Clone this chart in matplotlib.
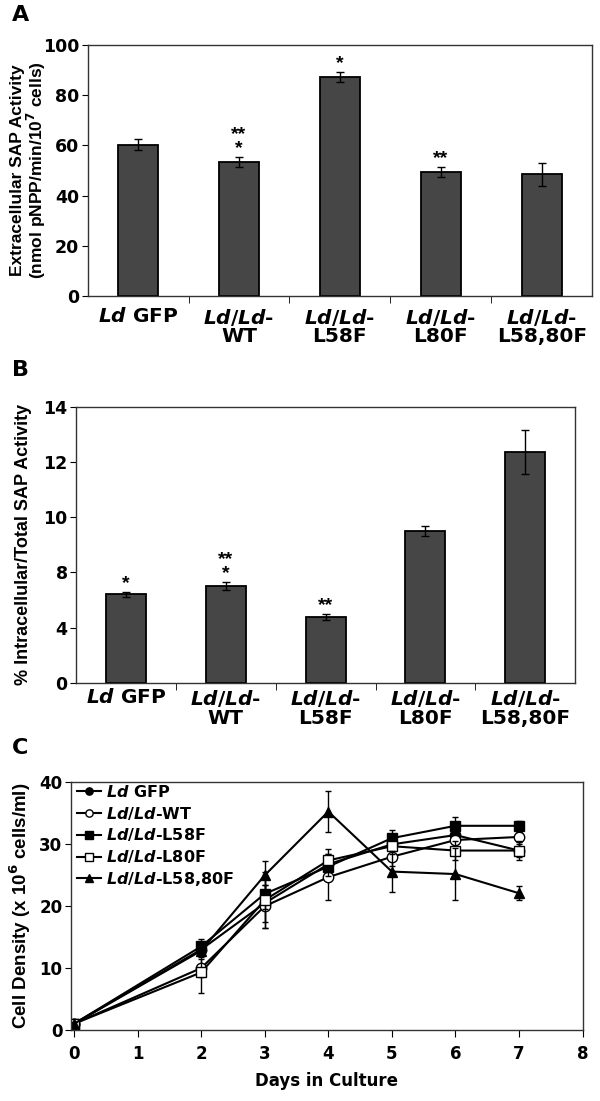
import numpy as np
import matplotlib
matplotlib.use("Agg")
import matplotlib.pyplot as plt
from matplotlib.ticker import FixedLocator

plt.rcParams['font.family'] = ['DejaVu Sans']
plt.rcParams['font.weight'] = 'bold'
plt.rcParams['axes.labelweight'] = 'bold'
plt.rcParams['mathtext.fontset'] = 'custom'
plt.rcParams['mathtext.it'] = 'DejaVu Sans:italic:bold'
plt.rcParams['mathtext.rm'] = 'DejaVu Sans:bold'
plt.rcParams['mathtext.bf'] = 'DejaVu Sans:bold'

# ---- data ----
strains = [r'$\mathit{Ld}$ GFP', r'$\mathit{Ld/Ld}$-' + '\nWT', r'$\mathit{Ld/Ld}$-' + '\nL58F',
           r'$\mathit{Ld/Ld}$-' + '\nL80F', r'$\mathit{Ld/Ld}$-' + '\nL58,80F']

extra_sap = [60.2, 53.5, 87.4, 49.3, 48.5]
extra_err = [2.2, 2.0, 2.0, 2.0, 4.6]
extra_stars = ['', '**\n*', '*', '**', '']

intra_pct = [6.4, 7.0, 4.75, 9.5, 12.35]
intra_err = [0.2, 0.28, 0.24, 0.18, 0.8]
intra_stars = ['*', '**\n*', '**', '', '']
# odd but evenly spaced tick labels on panel B
b_ticks = [0, 4, 8, 10, 12, 14]

days = [0, 2, 3, 4, 5, 6, 7]
growth_labels = [r'$\mathit{Ld}$ GFP', r'$\mathit{Ld/Ld}$-WT', r'$\mathit{Ld/Ld}$-L58F',
                 r'$\mathit{Ld/Ld}$-L80F', r'$\mathit{Ld/Ld}$-L58,80F']
gfp = [1.0, 13.0, 20.5, 26.8, 30.0, 31.5, 29.0]
gfp_err = [0.3, 1.0, 3.0, 2.5, 1.5, 1.5, 1.0]
wt = [1.0, 10.0, 20.0, 24.7, 28.0, 30.7, 31.2]
wt_err = [0.3, 1.5, 3.5, 3.7, 1.5, 1.0, 0.8]
l58 = [1.0, 13.5, 22.0, 26.4, 31.0, 33.0, 33.0]
l58_err = [0.3, 1.2, 2.5, 1.5, 1.4, 1.5, 0.8]
l80 = [1.0, 9.3, 21.0, 27.4, 29.7, 29.0, 29.0]
l80_err = [0.3, 3.4, 4.5, 1.0, 1.2, 1.6, 1.5]
l5880 = [1.0, 12.8, 25.0, 35.3, 25.6, 25.2, 22.1]
l5880_err = [0.3, 1.0, 2.3, 3.3, 3.3, 4.2, 1.1]

BAR = '#464646'
LAB_FONT = 'Liberation Sans'


def style_spines(ax):
    for s in ax.spines.values():
        s.set_linewidth(1.0)
        s.set_color('#333333')


def bar_panel(ax, vals, errs, stars, pad):
    x = np.arange(len(vals))
    ax.bar(x, vals, width=0.4, color=BAR, edgecolor='black', linewidth=1.3, zorder=2)
    ax.errorbar(x, vals, yerr=errs, fmt='none', ecolor='black', elinewidth=1.0,
                capsize=3, capthick=1.0, zorder=3)
    for i in range(len(vals)):
        if stars[i]:
            ax.text(x[i], vals[i] + errs[i], stars[i], ha='center', va='bottom',
                    fontsize=14, linespacing=0.75, family=LAB_FONT)
    ax.set_xlim(-0.5, len(vals) - 0.5)
    ax.set_xticks(x)
    ax.set_xticklabels(strains, fontsize=14.5, linespacing=0.95)
    ax.tick_params(axis='x', which='major', length=0, pad=pad)
    ax.xaxis.set_minor_locator(FixedLocator(np.arange(0.5, len(vals) - 1, 1.0)))
    ax.tick_params(axis='x', which='minor', length=5, direction='out')
    ax.tick_params(axis='y', labelsize=12.5, length=4, direction='out', pad=2)
    style_spines(ax)


fig = plt.figure(figsize=(6.0, 11.01), dpi=100)

# ---- A ----
axA = fig.add_axes([0.146, 0.7312, 0.841, 0.2279])
bar_panel(axA, extra_sap, extra_err, extra_stars, 8)
axA.set_ylim(0, 100)
axA.set_yticks([0, 20, 40, 60, 80, 100])
axA.set_ylabel('Extracellular SAP Activity\n(nmol pNPP/min/10$^7$ cells)', fontsize=12.5,
               family=LAB_FONT, linespacing=1.0)
axA.yaxis.set_label_coords(-0.079, 0.5)
fig.text(0.02, 0.9865, 'A', fontsize=16, va='center')

# ---- B ----
axB = fig.add_axes([0.1267, 0.3799, 0.832, 0.2507])


def fwd(v):
    return np.interp(v, b_ticks, np.arange(len(b_ticks)))


def inv(v):
    return np.interp(v, np.arange(len(b_ticks)), b_ticks)


axB.set_yscale('function', functions=(fwd, inv))
bar_panel(axB, intra_pct, intra_err, intra_stars, 4)
axB.set_ylim(0, 14)
axB.set_yticks(b_ticks)
axB.set_yticklabels([str(t) for t in b_ticks])
axB.yaxis.set_minor_locator(FixedLocator([]))
axB.set_ylabel('% Intracellular/Total SAP Activity', fontsize=13, family=LAB_FONT)
axB.yaxis.set_label_coords(-0.088, 0.5)
fig.text(0.02, 0.6635, 'B', fontsize=16, va='center')

# ---- C ----
axC = fig.add_axes([0.118, 0.0645, 0.853, 0.2248])
series = [(gfp, gfp_err, 'o', 'black'), (wt, wt_err, 'o', 'white'),
          (l58, l58_err, 's', 'black'), (l80, l80_err, 's', 'white'),
          (l5880, l5880_err, '^', 'black')]
for (vals, errs, mk, fc), lab in zip(series, growth_labels):
    axC.errorbar(days, vals, yerr=errs, fmt='none', ecolor='black', capsize=2.5,
                 elinewidth=1.0, capthick=1.0)
    axC.plot(days, vals, color='black', lw=1.5, marker=mk, markersize=7.5,
             markerfacecolor=fc, markeredgecolor='black', markeredgewidth=1.0,
             label=lab)
axC.set_xlim(-0.05, 8)
axC.set_ylim(0, 40)
axC.set_xticks(range(0, 9))
axC.set_yticks([0, 10, 20, 30, 40])
axC.tick_params(axis='x', labelsize=12, length=5, direction='out', pad=6)
axC.tick_params(axis='y', labelsize=12, length=4, direction='out', pad=2)
axC.set_xlabel('Days in Culture', fontsize=12, labelpad=6)
axC.set_ylabel('Cell Density (x 10$^6$ cells/ml)', fontsize=13.5, family=LAB_FONT)
axC.yaxis.set_label_coords(-0.074, 0.5)
style_spines(axC)
leg = axC.legend(loc='upper left', bbox_to_anchor=(0.012, 0.995), frameon=False,
                 fontsize=11.5, handlelength=1.5, handletextpad=0.3, labelspacing=0.3,
                 borderaxespad=0, borderpad=0, markerscale=0.7)
fig.text(0.02, 0.321, 'C', fontsize=16, va='center')

fig.savefig('out.png', dpi=100)
